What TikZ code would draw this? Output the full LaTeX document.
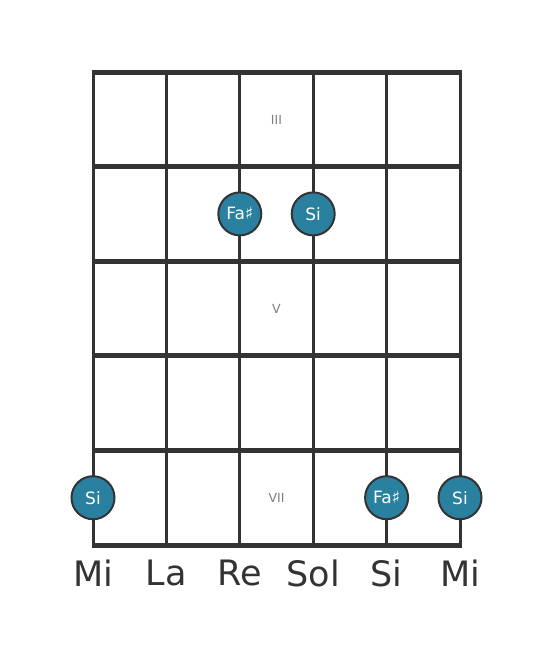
\documentclass[tikz,border=0pt]{standalone}
\usepackage{fontspec}
\setmainfont{DejaVu Sans}
\definecolor{notefill}{HTML}{2A809F}
\definecolor{gridline}{HTML}{333333}
\definecolor{fretgray}{HTML}{808080}

\begin{document}
\begin{tikzpicture}[line cap=butt,x=1pt,y=-1pt,
  string/.style={draw=gridline,line width=3pt},
  fret/.style={draw=gridline,line width=5pt},
  note/.style={circle,draw=gridline,line width=2pt,fill=notefill,minimum size=43pt,inner sep=0pt,text=white,font=\fontsize{17}{17}\selectfont},
  fretno/.style={text=fretgray,font=\fontsize{12.5}{12.5}\selectfont},
  openname/.style={text=gridline,font=\fontsize{35}{35}\selectfont}]
\useasboundingbox[fill=white] (0,0) rectangle (553,656);
% strings
\draw[string] (93,72)-- (93,545);
\draw[string] (166.4,72)-- (166.4,545);
\draw[string] (239.8,72)-- (239.8,545);
\draw[string] (313.2,72)-- (313.2,545);
\draw[string] (386.6,72)-- (386.6,545);
\draw[string] (460,72)-- (460,545);
% frets
\draw[fret] (91.5,72)-- (461.5,72);
\draw[fret] (91.5,166.6)-- (461.5,166.6);
\draw[fret] (91.5,261.2)-- (461.5,261.2);
\draw[fret] (91.5,355.8)-- (461.5,355.8);
\draw[fret] (91.5,450.4)-- (461.5,450.4);
\draw[fret] (91.5,545)-- (461.5,545);
% fret numbers
\node[fretno] (f3) at (276.5,120) {III};
\node[fretno] (f5) at (276.5,309) {V};
\node[fretno] (f7) at (276.5,498) {VII};
% notes
\node[note] (n4a) at (239.8,213.9) {Fa♯};
\node[note] (n3a) at (313.2,213.9) {Si};
\node[note] (n6b) at (93,497.7) {Si};
\node[note] (n2b) at (386.6,497.7) {Fa♯};
\node[note] (n1b) at (460,497.7) {Si};
% open strings
\node[openname] (s6) at (93,573) {Mi};
\node[openname] (s5) at (166.4,573) {La};
\node[openname] (s4) at (239.8,573) {Re};
\node[openname] (s3) at (313.2,573) {Sol};
\node[openname] (s2) at (386.6,573) {Si};
\node[openname] (s1) at (460,573) {Mi};
\end{tikzpicture}
\end{document}
